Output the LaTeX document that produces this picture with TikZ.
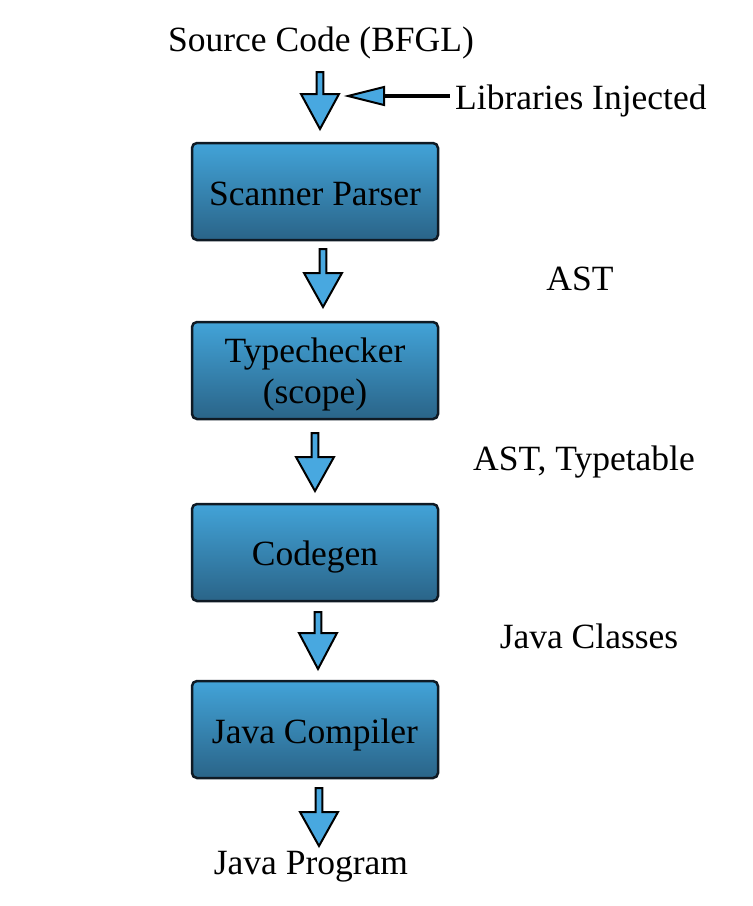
\documentclass[tikz,border=0pt]{standalone}
\usepackage{fontspec}
\setmainfont{Liberation Serif}
\begin{document}
\begin{tikzpicture}[x=1pt,y=-1pt,
  boxst/.style={draw=boxline, line width=2.5pt, rounded corners=5pt, top color=boxtop, bottom color=boxbot, shading angle=0},
  lbl/.style={anchor=base, inner sep=0pt, font=\fontsize{35.5}{42}\selectfont},
  barrow/.style={draw=black, line width=2pt, fill=arrowfill, line join=miter}]
\definecolor{boxtop}{HTML}{42A3D8}
\definecolor{boxbot}{HTML}{2A6488}
\definecolor{boxline}{HTML}{0F1A24}
\definecolor{arrowfill}{HTML}{48A8E0}
\useasboundingbox (0,0) rectangle (753,906);
% boxes
\path[boxst] (192,143) rectangle (438,240);
\path[boxst] (192,322) rectangle (438,419);
\path[boxst] (192,504) rectangle (438,601);
\path[boxst] (192,681) rectangle (438,778);
% box texts
\node[lbl] (sp) at (315,205) {Scanner Parser};
\node[lbl] (tc) at (315,362) {Typechecker};
\node[lbl] (sc) at (315,403) {(scope)};
\node[lbl] (cg) at (315,565) {Codegen};
\node[lbl] (jc) at (315,743) {Java Compiler};
% other labels
\node[lbl] (src) at (321,51) {Source Code (BFGL)};
\node[lbl, anchor=base west] (lib) at (455,109) {Libraries Injected};
\node[lbl] (ast) at (580,290) {AST};
\node[lbl] (astt) at (584,470) {AST, Typetable};
\node[lbl] (jcl) at (589,648) {Java Classes};
\node[lbl] (jp) at (311,874) {Java Program};
% block arrows: #1 centre x, #2 shaft top, #3 head top, #4 tip
\newcommand\blockarrow[4]{%
  \path[barrow] (#1-3.3,#2) -- (#1+3.3,#2) -- (#1+3.3,#3) -- (#1+19,#3) -- (#1,#4) -- (#1-19,#3) -- (#1-3.3,#3) -- cycle;}
\blockarrow{320}{72}{94}{129}
\blockarrow{323}{249}{273}{307}
\blockarrow{315}{433}{457}{491}
\blockarrow{318}{612}{633}{669}
\blockarrow{319}{788}{812}{846}
% libraries arrow
\coordinate (libtip) at (348,96);
\coordinate (libend) at (450,96);
\draw[line width=4pt] (384,96) -- (libend);
\path[barrow] (libtip) -- (384,87) -- (384,105) -- cycle;
\end{tikzpicture}
\end{document}
